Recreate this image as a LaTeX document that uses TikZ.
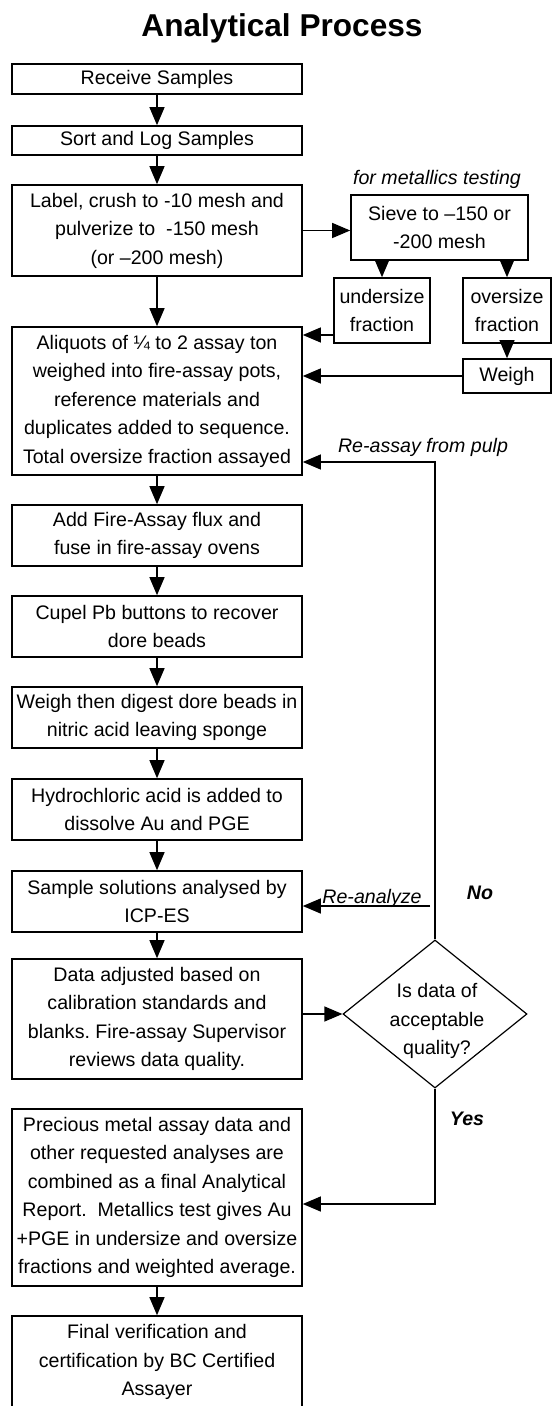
\documentclass[tikz,border=0pt]{standalone}
\usepackage{fontspec}
\setmainfont{Liberation Sans}
\usetikzlibrary{arrows.meta,shapes.geometric,calc}
\begin{document}
\frenchspacing
\begin{tikzpicture}[x=0.5pt,y=-0.5pt,
  boxfont/.style={font=\fontsize{9.8pt}{14.25pt}\selectfont},
  box/.style={draw,line width=0.8pt,inner sep=0pt,align=center,minimum width=145pt,boxfont},
  sbox/.style={draw,line width=0.8pt,inner sep=0pt,align=center,boxfont},
  arr/.style={line width=0.6pt,-{Triangle[length=9pt,width=7.5pt]}},
  lbl/.style={inner sep=0pt,font=\fontsize{9.8pt}{12pt}\selectfont\itshape},
  yn/.style={inner sep=0pt,font=\fontsize{9.8pt}{12pt}\selectfont\bfseries\itshape}]
\useasboundingbox (0,0) rectangle (553,1406);
\clip (0,0) rectangle (553,1406);

\node[font=\fontsize{15.8pt}{18pt}\selectfont\bfseries,anchor=base,inner sep=0pt] (title) at (282,37) {Analytical Process};

% main column
\node[box,minimum height=15pt] (recv) at (157,79) {Receive Samples};
\node[box,minimum height=14.5pt] (sort) at (157,140.5) {Sort and Log Samples};
\node[box,minimum height=45.5pt] (label) at (157,230.5) {Label, crush to -10 mesh and\\pulverize to~ -150 mesh\\(or –200 mesh)};
\node[box,minimum height=74pt] (aliq) at (157,401) {Aliquots of ¼ to 2 assay ton\\weighed into fire-assay pots,\\reference materials and\\duplicates added to sequence.\\Total oversize fraction assayed};
\node[box,minimum height=30.5pt] (fire) at (157,535.5) {Add Fire-Assay flux and\\fuse in fire-assay ovens};
\node[box,minimum height=30.5pt] (cupel) at (157,626.5) {Cupel Pb buttons to recover\\dore beads};
\node[box,minimum height=30.5pt] (weighd) at (157,717.5) {Weigh then digest dore beads in\\nitric acid leaving sponge};
\node[box,minimum height=30.5pt] (hydro) at (157,809.5) {Hydrochloric acid is added to\\dissolve Au and PGE};
\node[box,minimum height=30.5pt] (sample) at (157,901.5) {Sample solutions analysed by\\ICP-ES};
\node[box,minimum height=60pt] (data) at (157,1019) {Data adjusted based on\\calibration standards and\\blanks. Fire-assay Supervisor\\reviews data quality.};
\node[box,minimum height=88.5pt] (prec) at (157,1197.5) {Precious metal assay data and\\other requested analyses are\\combined as a final Analytical\\Report.~ Metallics test gives Au\\+PGE in undersize and oversize\\fractions and weighted average.};
\node[box,minimum height=46pt] (final) at (157,1362) {Final verification and\\certification by BC Certified\\Assayer};

% metallics branch
\node[lbl,anchor=base] (metal) at (437,185) {for metallics testing};
\node[sbox,minimum width=88.5pt,minimum height=32.5pt] (sieve) at (439.5,227.5) {Sieve to –150 or\\-200 mesh};
\node[sbox,minimum width=48pt,minimum height=32.5pt] (under) at (382,310.5) {undersize\\fraction};
\node[sbox,minimum width=44pt,minimum height=32.5pt] (over) at (507,310.5) {oversize\\fraction};
\node[sbox,minimum width=44pt,minimum height=17pt] (weigh) at (507,376) {Weigh};

% decision
\node[draw,diamond,line width=0.6pt,inner sep=0pt,minimum width=92pt,minimum height=74pt] (dia) at (435,1014) {};
\node[align=center,inner sep=0pt,boxfont] (dtext) at (437,1021) {Is data of\\acceptable\\quality?};

% labels
\node[lbl,anchor=base] (pulptxt) at (423,452) {Re-assay from pulp};
\node[lbl,anchor=base] (reantxt) at (372,903) {Re-analyze};
\node[yn] (no) at (480,893) {No};
\node[yn] (yes) at (467,1119) {Yes};

% connectors
\draw[arr] (recv) -- (sort);
\draw[arr] (sort) -- (label);
\draw[arr] (label) -- (aliq);
\draw[arr] (aliq) -- (fire);
\draw[arr] (fire) -- (cupel);
\draw[arr] (cupel) -- (weighd);
\draw[arr] (weighd) -- (hydro);
\draw[arr] (hydro) -- (sample);
\draw[arr] (sample) -- (data);
\draw[arr] (prec) -- (final);

\draw[arr] (label.east) -- (label.east -| sieve.west);
\draw[arr] (sieve.south -| under.north) -- (under.north);
\draw[arr] (sieve.south -| over.north) -- (over.north);
\draw[arr] (over) -- (weigh);
\draw[arr] ([yshift=-12.25pt]under.west) -- ([yshift=-12.25pt]under.west -| aliq.east);
\draw[arr] (weigh.west) -- (weigh.west -| aliq.east);

\draw[arr] (data.east |- dia.west) -- (dia.west);
\coordinate (pulp) at (434,462);
\draw[arr] (dia.north) -- (dia.north |- pulp) -- (pulp -| aliq.east);
\coordinate (rean) at (430,906);
\draw[arr] (rean) -- (rean -| sample.east);
\draw[arr] (dia.south) |- ([yshift=-3.25pt]prec.east);
\end{tikzpicture}
\end{document}
